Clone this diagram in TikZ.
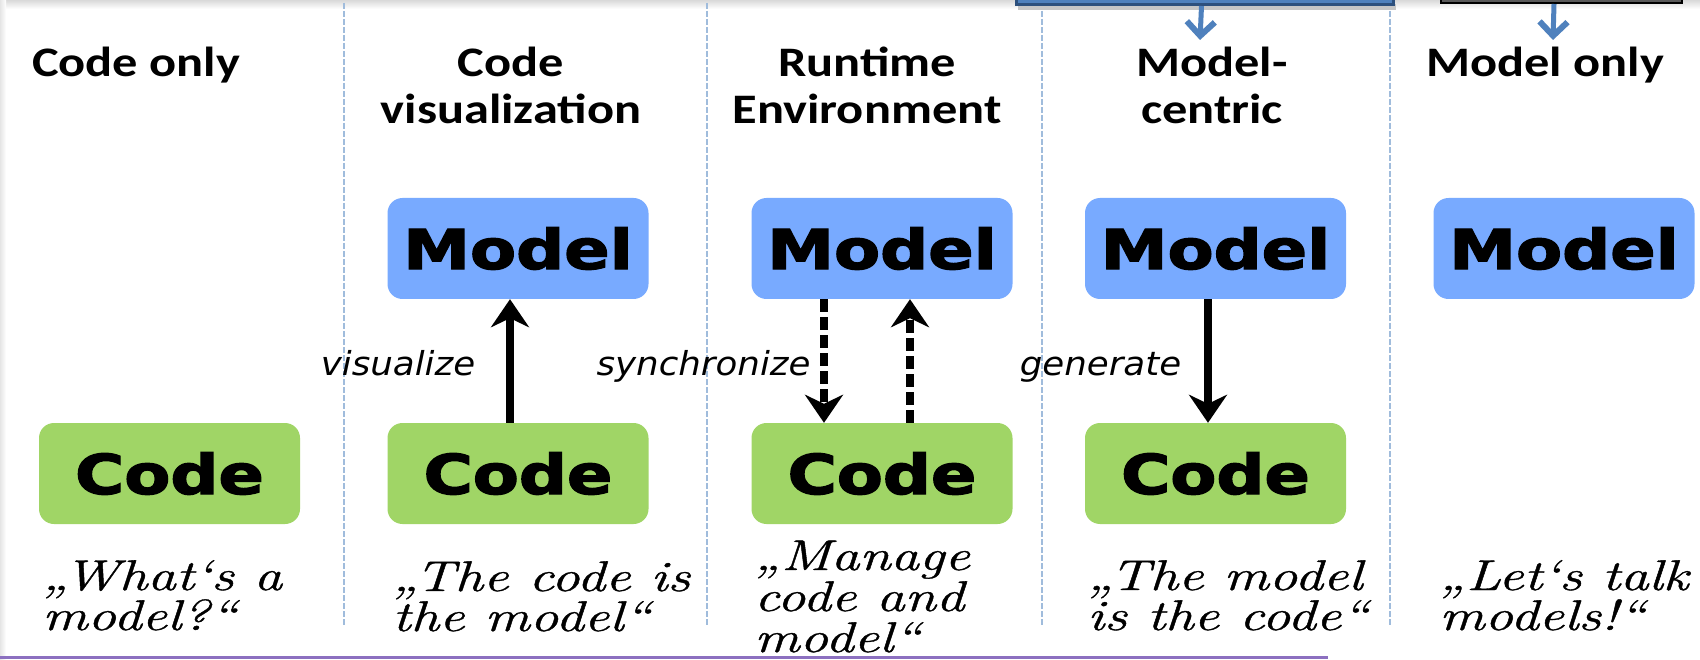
\documentclass[tikz,border=0pt]{standalone}
\usepackage{fontspec}
\usepackage{graphicx}
\usetikzlibrary{arrows.meta}
\newfontfamily\headfont{Carlito}
\newfontfamily\boxfont{DejaVu Sans}[BoldFeatures={FakeBold=2.2}]
\newfontfamily\labfont{DejaVu Sans}
\newfontfamily\quotefont{Latin Modern Roman}[ItalicFeatures={FakeBold=0.8}]
\definecolor{modelblue}{RGB}{120,170,255}
\definecolor{codegreen}{RGB}{160,213,102}
\definecolor{divblue}{RGB}{160,188,220}
\definecolor{arrowblue}{RGB}{79,129,189}
\definecolor{topblue}{RGB}{79,129,189}
\definecolor{topblueedge}{RGB}{45,80,125}
\definecolor{topgray}{RGB}{90,90,90}
\definecolor{purpleline}{RGB}{140,112,192}
\newcommand{\stackc}[2]{\vtop{\baselineskip=#1\relax\lineskiplimit=-100pt\relax\halign{\hfil##\hfil\cr#2\crcr}}}
\newcommand{\stackl}[2]{\vtop{\baselineskip=#1\relax\lineskiplimit=-100pt\relax\halign{##\hfil\cr#2\crcr}}}
\tikzset{
  heading/.style={font=\headfont\bfseries\fontsize{42}{46}\selectfont, inner sep=0pt, anchor=base},
  box/.style={rounded corners=15pt, minimum width=261pt, minimum height=101pt, inner sep=0pt,
              font=\boxfont\bfseries\fontsize{55}{60}\selectfont},
  modelbox/.style={box, fill=modelblue},
  codebox/.style={box, fill=codegreen},
  lab/.style={font=\labfont\itshape\fontsize{33}{36}\selectfont, inner sep=0pt, anchor=base},
  quotetext/.style={font=\quotefont\itshape\fontsize{43}{43}\selectfont, inner sep=0pt, anchor=base west},
  flow/.style={line width=8pt, -{Stealth[length=28pt,width=38pt,inset=9pt]}},
  syncflow/.style={flow, dash pattern=on 13pt off 5pt},
  divider/.style={draw=divblue, line width=1.5pt, dash pattern=on 6pt off 2pt},
  toparrow/.style={draw=arrowblue, line width=5pt, -{Straight Barb[length=14pt,width=28pt,line width=6pt]}},
}
\begin{document}
\begin{tikzpicture}[x=1pt,y=-1pt]
\useasboundingbox (0,0) rectangle (1700,660);
\fill[white] (0,0) rectangle (1700,660);
\shade[top color=gray!30, bottom color=white] (0,0) rectangle (1700,9);
\shade[left color=gray!20, right color=white] (0,0) rectangle (6,660);

% dividers
\draw[divider] (344,3) -- (344,626);
\draw[divider] (707,3) -- (707,626);
\draw[divider] (1042,3) -- (1042,626);
\draw[divider] (1390,3) -- (1390,626);

% top boxes (cut off)
\fill[gray!45] (1018,4) rectangle (1396,10);
\node[draw=topblueedge, fill=topblue, line width=3pt, minimum width=377pt, minimum height=24pt,
      inner sep=0pt, anchor=south west] (tb1) at (1015,6) {};
\node[draw=black, fill=topgray, line width=2pt, minimum width=241pt, minimum height=24pt,
      inner sep=0pt, anchor=south west] (tb2) at (1440,4) {};
\coordinate (ta1) at (1200,40);
\coordinate (ta2) at (1553,40);
\draw[toparrow] ([xshift=-3.5pt]tb1.south) -- (ta1);
\draw[toparrow] ([xshift=-7.5pt]tb2.south) -- (ta2);

% headings
\node[heading] (h1) at (136,77) {\scalebox{1.2}[1]{Code only}};
\node[heading] (h2) at (511,77) {\scalebox{1.2}[1]{\stackc{47pt}{Code\cr visualization}}};
\node[heading] (h3) at (867,77) {\scalebox{1.2}[1]{\stackc{47pt}{Runtime\cr Environment}}};
\node[heading] (h4) at (1212,77) {\scalebox{1.2}[1]{\stackc{47pt}{Model-\cr centric}}};
\node[heading] (h5) at (1545,77) {\scalebox{1.2}[1]{Model only}};

% boxes
\node[codebox]  (c1) at (169.5,473.5) {\scalebox{1.22}[1]{Code}};
\node[modelbox] (m2) at (518,248.5) {\scalebox{1.22}[1]{Model}};
\node[codebox]  (c2) at (518,473.5) {\scalebox{1.22}[1]{Code}};
\node[modelbox] (m3) at (882,248.5) {\scalebox{1.22}[1]{Model}};
\node[codebox]  (c3) at (882,473.5) {\scalebox{1.22}[1]{Code}};
\node[modelbox] (m4) at (1215.5,248.5) {\scalebox{1.22}[1]{Model}};
\node[codebox]  (c4) at (1215.5,473.5) {\scalebox{1.22}[1]{Code}};
\node[modelbox] (m5) at (1564,248.5) {\scalebox{1.22}[1]{Model}};

% connectors
\draw[flow] ([xshift=-8pt]c2.north) -- ([xshift=-8pt]m2.south);
\draw[syncflow] ([xshift=-58pt]m3.south) -- ([xshift=-58pt]c3.north);
\draw[syncflow] ([xshift=28pt]c3.north) -- ([xshift=28pt]m3.south);
\draw[flow] ([xshift=-7.5pt]m4.south) -- ([xshift=-7.5pt]c4.north);

% labels
\node[lab] (l2) at (398,375) {\scalebox{1.08}[1]{visualize}};
\node[lab] (l3) at (703.5,375) {\scalebox{1.08}[1]{synchronize}};
\node[lab] (l4) at (1100.5,375) {\scalebox{1.08}[1]{generate}};

% quotes
\node[quotetext] (q1) at (42,590) {\scalebox{1.32}[1]{\stackl{40pt}{„What‘s a\cr model?“}}};
\node[quotetext] (q2) at (392,591) {\scalebox{1.32}[1]{\stackl{40pt}{„The code is\cr the model“}}};
\node[quotetext] (q3) at (754,570) {\scalebox{1.32}[1]{\stackl{41pt}{„Manage\cr code and\cr model“}}};
\node[quotetext] (q4) at (1087,590) {\scalebox{1.32}[1]{\stackl{40pt}{„The model\cr is the code“}}};
\node[quotetext] (q5) at (1439,590) {\scalebox{1.32}[1]{\stackl{40pt}{„Let‘s talk\cr models!“}}};

% bottom line
\draw[purpleline, line width=3pt] (0,657) -- (1328,657);
\end{tikzpicture}
\end{document}
